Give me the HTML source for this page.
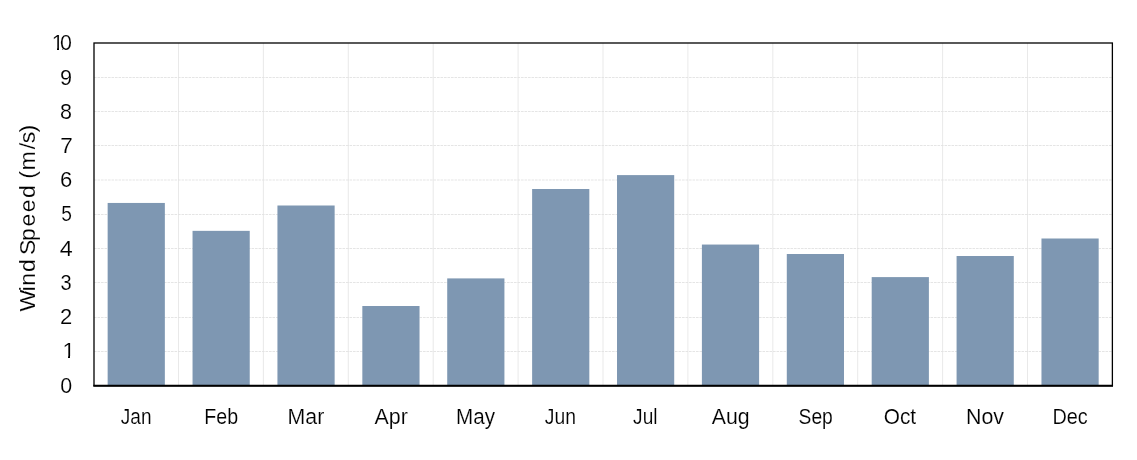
<!DOCTYPE html>
<html lang="en"><head><meta charset="utf-8"><title>Wind Speed (m/s)</title>
<style>html,body{margin:0;padding:0;background:#fff;overflow:hidden}svg{display:block}text{font-family:"Liberation Sans",sans-serif;fill:#000;stroke:#fff;stroke-width:0.15}</style></head><body>
<svg width="1137" height="460" viewBox="0 0 1137 460">
<rect width="1137" height="460" fill="#fff"/>
<defs>
<clipPath id="c10"><path d="M45 30H80V48H45Z M57 48H59V51H57Z M62 48H80V52H62Z"/></clipPath>
<clipPath id="c1"><path d="M55 338H80V356H55Z M68 356H70V359H68Z"/></clipPath>
</defs>
<g stroke="#e6e6e6" stroke-width="0.875" fill="none">
<line x1="178.5" y1="43" x2="178.5" y2="385.7"/>
<line x1="263.4" y1="43" x2="263.4" y2="385.7"/>
<line x1="348.3" y1="43" x2="348.3" y2="385.7"/>
<line x1="433.2" y1="43" x2="433.2" y2="385.7"/>
<line x1="518.1" y1="43" x2="518.1" y2="385.7"/>
<line x1="603" y1="43" x2="603" y2="385.7"/>
<line x1="687.9" y1="43" x2="687.9" y2="385.7"/>
<line x1="772.8" y1="43" x2="772.8" y2="385.7"/>
<line x1="857.7" y1="43" x2="857.7" y2="385.7"/>
<line x1="942.6" y1="43" x2="942.6" y2="385.7"/>
<line x1="1027.5" y1="43" x2="1027.5" y2="385.7"/>
</g>
<g stroke="#e1e1e1" stroke-width="0.875" stroke-dasharray="2.6 0.9" fill="none">
<line x1="94" y1="351.5" x2="1112.38" y2="351.5"/>
<line x1="94" y1="317.5" x2="1112.38" y2="317.5"/>
<line x1="94" y1="282.5" x2="1112.38" y2="282.5"/>
<line x1="94" y1="248.5" x2="1112.38" y2="248.5"/>
<line x1="94" y1="214.5" x2="1112.38" y2="214.5"/>
<line x1="94" y1="180" x2="1112.38" y2="180"/>
<line x1="94" y1="145.5" x2="1112.38" y2="145.5"/>
<line x1="94" y1="111.5" x2="1112.38" y2="111.5"/>
<line x1="94" y1="77.5" x2="1112.38" y2="77.5"/>
</g>
<g fill="#7e97b2">
<rect x="107.65" y="202.95" width="57.2" height="182.75"/>
<rect x="192.54" y="230.85" width="57.2" height="154.85"/>
<rect x="277.44" y="205.5" width="57.2" height="180.2"/>
<rect x="362.33" y="306" width="57.2" height="79.7"/>
<rect x="447.22" y="278.4" width="57.2" height="107.3"/>
<rect x="532.12" y="189" width="57.2" height="196.7"/>
<rect x="617.01" y="175.1" width="57.2" height="210.6"/>
<rect x="701.9" y="244.55" width="57.2" height="141.15"/>
<rect x="786.79" y="254" width="57.2" height="131.7"/>
<rect x="871.69" y="277.1" width="57.2" height="108.6"/>
<rect x="956.58" y="256" width="57.2" height="129.7"/>
<rect x="1041.47" y="238.5" width="57.2" height="147.2"/>
</g>
<rect x="94" y="43" width="1018.38" height="342.7" fill="none" stroke="#000" stroke-width="1.3"/>
<line x1="93.35" y1="385.77" x2="1113.03" y2="385.77" stroke="#000" stroke-width="1.95"/>
<g font-size="21.4">
<g><text transform="translate(60.16 393) scale(1.0020 1)">0</text></g>
<g clip-path="url(#c1)"><text transform="translate(62.61 358) scale(1.0500 1)">1</text></g>
<g><text transform="translate(59.9 324) scale(1.0257 1)">2</text></g>
<g><text transform="translate(60.49 290) scale(0.9363 1)">3</text></g>
<g><text transform="translate(59.71 256) scale(1.0896 1)">4</text></g>
<g><text transform="translate(61.23 221) scale(0.8969 1)">5</text></g>
<g><text transform="translate(59.98 187) scale(1.0279 1)">6</text></g>
<g><text transform="translate(60.34 153) scale(1.0536 1)">7</text></g>
<g><text transform="translate(60.06 119) scale(1.0058 1)">8</text></g>
<g><text transform="translate(59.99 85) scale(1.0116 1)">9</text></g>
<g clip-path="url(#c10)"><text x="51.73 60.11" y="50">10</text></g>
</g>
<g font-size="21.4">
<text transform="translate(120.8 424) scale(0.8908 1)">Jan</text>
<text transform="translate(204.29 424) scale(0.9176 1)">Feb</text>
<text transform="translate(287.55 424) scale(0.9959 1)">Mar</text>
<text transform="translate(374.56 424) scale(0.9999 1)">Apr</text>
<text transform="translate(456.11 424) scale(0.9630 1)">May</text>
<text transform="translate(544.8 424) scale(0.9045 1)">Jun</text>
<text transform="translate(633.1 424) scale(0.8929 1)">Jul</text>
<text transform="translate(711.76 424) scale(0.9957 1)">Aug</text>
<text transform="translate(798.53 424) scale(0.9004 1)">Sep</text>
<text transform="translate(883.76 424) scale(0.9729 1)">Oct</text>
<text transform="translate(966.05 424) scale(0.9992 1)">Nov</text>
<text transform="translate(1052.47 424) scale(0.9290 1)">Dec</text>
</g>
<text font-size="22.0" transform="translate(34.7 309.9) rotate(-90) scale(1.05 1)" x="-1.56 17.66 22.94 35.99 47.8 52.29 65.73 79.5 92.98 106.53 119.8 124.81 132.66 153.11 158.78 168.93" y="0">Wind Speed (m/s)</text>
</svg></body></html>
